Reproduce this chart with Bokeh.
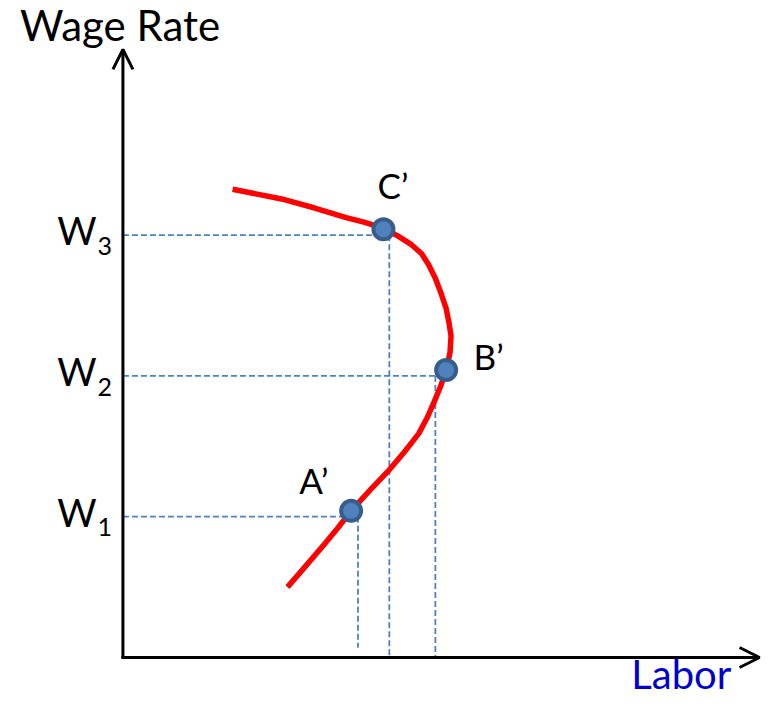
from bokeh.plotting import figure
from bokeh.models import Range1d, Arrow, OpenHead
from bokeh.core.properties import value
from bokeh.embed import file_html
from bokeh.resources import INLINE

# ---- data (pixel-like units, origin at axes corner) ----
curve_x = [112, 137, 162, 195, 228, 247, 266, 281, 295, 305, 312, 319, 325, 330, 333, 335,
           334, 330, 325, 318, 311, 302, 288, 272, 253, 233, 219, 205, 187, 168]
curve_y = [479, 474, 469, 460, 450, 445, 439, 431, 422, 413, 402, 388, 372, 357, 342, 329,
           312, 294, 279, 262, 246, 229, 211, 192, 172, 150, 132, 115, 94, 72]

point_names = ["A\u2019", "B\u2019", "C\u2019"]
point_x = [233, 330, 266]
point_y = [150, 294, 438]

wage_levels = [144, 288, 432]          # W1, W2, W3
wage_subs = ["1", "2", "3"]
labor_marks = [240, 319, 272]          # vertical dashed guides for A', B', C'
labor_bottom = [10, 0, 0]

label_x = [180, 358, 260]
label_y = [182, 308, 483]

x_axis_end = 650
y_axis_end = 622

FONT = "Lato"
DASH_COLOR = "#4F81BD"

p = figure(width=761, height=701, output_backend="svg", toolbar_location=None,
           x_range=Range1d(-125, 652), y_range=Range1d(-45, 672),
           min_border=0, outline_line_color=None)
p.axis.visible = False
p.grid.visible = False
p.background_fill_color = "white"
p.border_fill_color = "white"

# dashed guides
hx0 = [0] * len(wage_levels)
p.segment(x0=hx0, y0=wage_levels, x1=point_x, y1=wage_levels,
          line_color=DASH_COLOR, line_width=1.8, line_dash="6 3")
p.segment(x0=labor_marks, y0=wage_levels, x1=labor_marks, y1=labor_bottom,
          line_color=DASH_COLOR, line_width=1.8, line_dash="6 3")

# axes with open arrow heads
p.add_layout(Arrow(x_start=0, y_start=-1.5, x_end=0, y_end=y_axis_end,
                   line_width=3, line_color="black",
                   end=OpenHead(size=20, line_width=3, line_color="black")))
p.add_layout(Arrow(x_start=-1.5, y_start=0, x_end=x_axis_end, y_end=0,
                   line_width=3, line_color="black",
                   end=OpenHead(size=20, line_width=3, line_color="black")))

# supply curve
p.line(curve_x, curve_y, line_color="#FF0000", line_width=5.5, line_join="round")

# points
p.scatter(point_x, point_y, size=20, fill_color="#4F81BD",
          line_color="#385D8A", line_width=4)

# point labels
p.text(x=label_x, y=label_y, text=point_names, text_font=value(FONT),
       text_font_size="35px", text_color="black", text_baseline="alphabetic")

# wage labels
wx = [-67] * 3
p.text(x=wx, y=[w + 5 for w in wage_levels], text=["W"] * 3, text_font=value(FONT),
       text_font_size="38px", text_color="black", text_baseline="alphabetic")
sx = [-26] * 3
p.text(x=sx, y=[w - 11 for w in wage_levels], text=wage_subs, text_font=value(FONT),
       text_font_size="25px", text_color="black", text_baseline="alphabetic")

# axis titles
p.text(x=[-105], y=[647], text=["Wage Rate"], text_font=value(FONT),
       text_font_size="42px", text_color="black", text_baseline="alphabetic")
p.text(x=[519], y=[-17], text=["Labor"], text_font=value(FONT),
       text_font_size="40px", text_color="#0000CC", text_baseline="alphabetic")

open("out.html", "w").write(file_html(p, INLINE))
